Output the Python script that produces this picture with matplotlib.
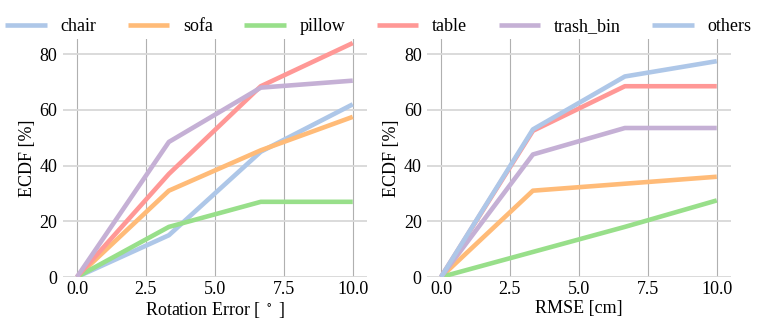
import matplotlib
matplotlib.use('Agg')
import matplotlib.pyplot as plt
import numpy as np

plt.rcParams['font.family'] = ['Liberation Serif', 'DejaVu Serif']
plt.rcParams['mathtext.fontset'] = 'stix'

# thresholds of the ECDF
x_vals = [0, 10 / 3, 20 / 3, 10]

names = ['chair', 'sofa', 'pillow', 'table', 'trash_bin', 'others']
colors = ['#aec7e8', '#ffbb78', '#98df8a', '#ff9896', '#c5b0d5', '#aec7e8']

# ECDF [%] for rotation error
rot_chair = [0, 15, 45, 62]
rot_sofa = [0, 31, 45.5, 57.5]
rot_pillow = [0, 18, 27, 27]
rot_table = [0, 37, 68.5, 84]
rot_trash_bin = [0, 48.5, 68, 70.5]

# ECDF [%] for RMSE
rmse_sofa = [0, 31, 33.5, 36]
rmse_pillow = [0, 9, 18, 27.5]
rmse_table = [0, 52.5, 68.5, 68.5]
rmse_trash_bin = [0, 44, 53.5, 53.5]
rmse_others = [0, 53, 72, 77.5]

left_series = {'chair': rot_chair, 'sofa': rot_sofa, 'pillow': rot_pillow,
               'table': rot_table, 'trash_bin': rot_trash_bin}
right_series = {'sofa': rmse_sofa, 'pillow': rmse_pillow, 'table': rmse_table,
                'trash_bin': rmse_trash_bin, 'others': rmse_others}

fs = 13

fig, (ax1, ax2) = plt.subplots(1, 2, figsize=(7.61, 3.24), dpi=100)
fig.subplots_adjust(left=0.083, right=0.96, bottom=0.145, top=0.88, wspace=0.2)

handles = {}
for ax, series, xlabel in [(ax1, left_series, 'Rotation Error [ $^\\circ$ ]'),
                           (ax2, right_series, 'RMSE [cm]')]:
    for name, vals in series.items():
        c = colors[names.index(name)]
        ln, = ax.plot(x_vals, vals, color=c, lw=3.3, solid_capstyle='butt', label=name)
        handles[name] = ln
    ax.set_ylim(0, 85.5)
    ax.set_xlim(-0.5, 10.5)
    ax.set_xticks([0, 2.5, 5, 7.5, 10])
    ax.set_xticklabels(['0.0', '2.5', '5.0', '7.5', '10.0'])
    ax.set_yticks([0, 20, 40, 60, 80])
    ax.xaxis.grid(True, color='#b0b0b0', lw=0.8)
    ax.yaxis.grid(True, color='#d8d8d8', lw=1.3)
    ax.set_axisbelow(True)
    for s in ax.spines.values():
        s.set_visible(False)
    ax.tick_params(axis='x', length=0, pad=3, labelsize=fs)
    ax.tick_params(axis='y', length=0, pad=4, labelsize=fs)
    ax.set_xlabel(xlabel, fontsize=fs, labelpad=1)
    ax.set_ylabel('ECDF [%]', fontsize=fs, labelpad=3)

fig.legend([handles[n] for n in names], names, loc='center', ncol=6,
           frameon=False, bbox_to_anchor=(0.497, 0.918), fontsize=fs,
           handlelength=2.3, columnspacing=1.75, handletextpad=0.75,
           borderaxespad=0)

fig.savefig('out.png', dpi=100)
